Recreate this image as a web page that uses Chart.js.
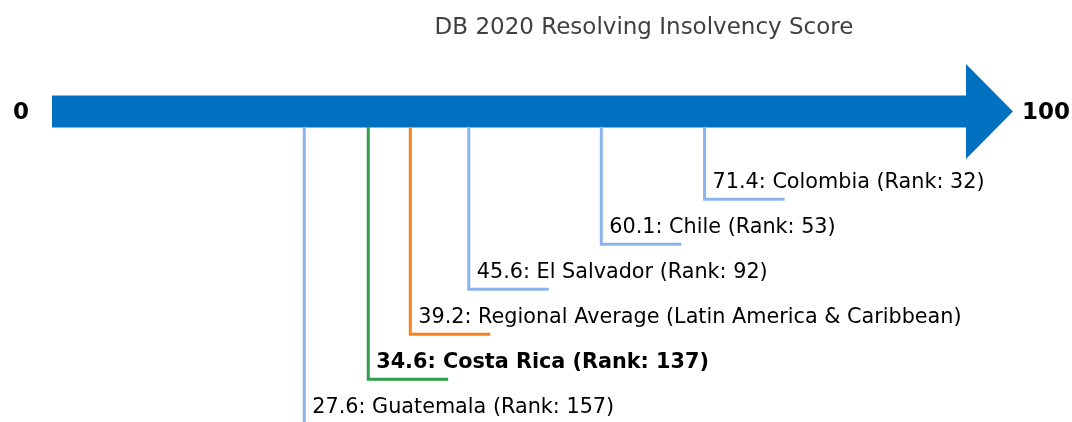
<!DOCTYPE html>
<html>
<head>
<meta charset="utf-8">
<script src="https://cdn.jsdelivr.net/npm/chart.js@4"></script>
<style>
  html, body { margin: 0; padding: 0; background: #ffffff; }
  #wrap { width: 1072px; height: 422px; }
</style>
</head>
<body>
<div id="wrap"><canvas id="c" width="1072" height="422"></canvas></div>
<script>
// ---- data ----
const title = 'DB 2020 Resolving Insolvency Score';
const names = ['Colombia', 'Chile', 'El Salvador', 'Regional Average (Latin America & Caribbean)', 'Costa Rica', 'Guatemala'];
const scores = [71.4, 60.1, 45.6, 39.2, 34.6, 27.6];
const ranks = [32, 53, 92, null, 137, 157];
const roles = ['peer', 'peer', 'peer', 'regional', 'focus', 'peer'];
const axisMin = 0;
const axisMax = 100;

// ---- styles ----
const roleColor = { peer: '#8ab4eb', regional: '#f5821f', focus: '#2e9e4a' };
const barColor = '#0070c0';
const FONT = '"DejaVu Sans", sans-serif';
const LEADER = 8.75;           // horizontal leader length (x units)
const BAR_BOTTOM_LEVEL = -1.61; // level of bar's lower edge
const BAR_CENTER_LEVEL = -1.95;

const labelText = (i) => ranks[i] === null
  ? `${scores[i]}: ${names[i]}`
  : `${scores[i]}: ${names[i]} (Rank: ${ranks[i]})`;

const datasets = scores.map((s, i) => ({
  data: [
    { x: s, y: BAR_BOTTOM_LEVEL },
    { x: s, y: i },
    { x: s + LEADER, y: i }
  ],
  showLine: true,
  borderColor: roleColor[roles[i]],
  borderWidth: 3,
  pointRadius: 0,
  fill: false,
  tension: 0,
  borderJoinStyle: 'miter',
  clip: false
}));

const arrowPlugin = {
  id: 'arrow',
  beforeDatasetsDraw(chart) {
    const { ctx, scales: { x, y } } = chart;
    const x0 = x.getPixelForValue(axisMin);
    const x1 = x.getPixelForValue(axisMax);
    const yc = y.getPixelForValue(BAR_CENTER_LEVEL);
    const half = 16;
    const headHalf = 47.5;
    const headLen = 47;
    ctx.save();
    ctx.fillStyle = barColor;
    ctx.beginPath();
    ctx.moveTo(x0, yc - half);
    ctx.lineTo(x1, yc - half);
    ctx.lineTo(x1, yc - headHalf);
    ctx.lineTo(x1 + headLen, yc);
    ctx.lineTo(x1, yc + headHalf);
    ctx.lineTo(x1, yc + half);
    ctx.lineTo(x0, yc + half);
    ctx.closePath();
    ctx.fill();
    // end labels
    ctx.fillStyle = '#000000';
    ctx.font = 'bold 23px ' + FONT;
    ctx.textBaseline = 'middle';
    ctx.textAlign = 'center';
    ctx.fillText(String(axisMin), 21, yc + 1);
    ctx.textAlign = 'left';
    ctx.fillText(String(axisMax), x1 + headLen + 9, yc + 1);
    ctx.restore();
  },
  afterDatasetsDraw(chart) {
    const { ctx, scales: { x, y } } = chart;
    ctx.save();
    ctx.textBaseline = 'alphabetic';
    ctx.textAlign = 'left';
    scores.forEach((s, i) => {
      const px = x.getPixelForValue(s) + 8;
      const py = y.getPixelForValue(i) - 11;
      ctx.fillStyle = '#000000';
      ctx.font = (roles[i] === 'focus' ? 'bold ' : '') + '20.75px ' + FONT;
      ctx.fillText(labelText(i), px, py);
    });
    ctx.fillStyle = '#404040';
    ctx.font = '23px ' + FONT;
    ctx.textAlign = 'center';
    ctx.textBaseline = 'middle';
    ctx.fillText(title, 644, 28);
    ctx.restore();
  }
};

new Chart(document.getElementById('c'), {
  type: 'scatter',
  data: { datasets },
  options: {
    responsive: false,
    animation: false,
    layout: { padding: { left: 52, right: 106, top: 0, bottom: 0 } },
    plugins: { legend: { display: false }, tooltip: { enabled: false }, title: { display: false } },
    scales: {
      x: { type: 'linear', min: axisMin, max: axisMax, display: false },
      y: { type: 'linear', min: -4.43, max: 4.95, reverse: true, display: false }
    }
  },
  plugins: [arrowPlugin]
});
</script>
</body>
</html>
